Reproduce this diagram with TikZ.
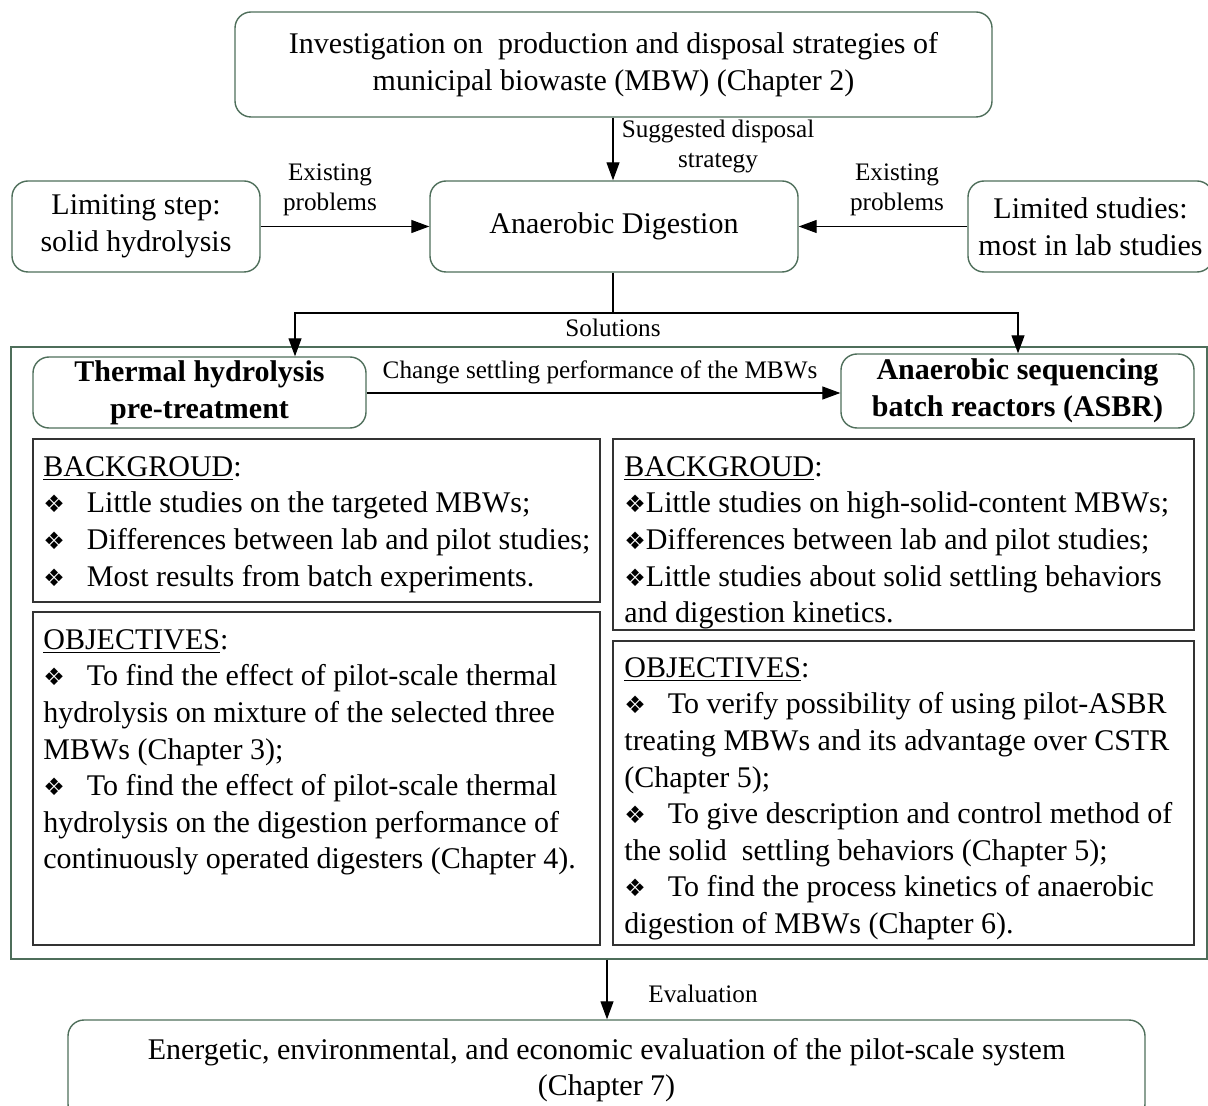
\documentclass[tikz,border=0pt]{standalone}
\usepackage{fontspec}
\setmainfont{Liberation Serif}
\newfontfamily\dingfont{DejaVu Sans}
\usetikzlibrary{arrows.meta}
\definecolor{boxgreen}{HTML}{4E6E5A}
\definecolor{innergray}{HTML}{333333}
\newcommand{\bul}{{\dingfont\fontsize{12}{12}\selectfont ❖}}
\newcommand{\bulsp}{\bul\hspace{11pt}}
\begin{document}
\begin{tikzpicture}[x=0.5pt,y=-0.5pt,
  rbox/.style={draw=boxgreen,line width=0.7pt,rounded corners=8pt,align=center,inner sep=0pt,
     font=\fontsize{15}{18.3}\selectfont},
  ibox/.style={draw=innergray,line width=0.7pt,inner sep=0pt},
  cbox/.style={draw=boxgreen,line width=0.7pt,inner sep=0pt},
  lbl/.style={align=center,inner sep=0pt,font=\fontsize{12.6}{15}\selectfont},
  txt/.style={align=left,inner sep=0pt,anchor=north west,font=\fontsize{15}{18.3}\selectfont},
  arr/.style={-{Triangle[length=9pt,width=6.5pt]},line width=0.6pt,black}
]
\useasboundingbox (0,0) rectangle (1208,1106);

% top boxes
\node[rbox,minimum width=378.5pt,minimum height=52.5pt] (top) at (613.5,64.5)
  {Investigation on\ \ production and disposal strategies of\\municipal biowaste (MBW) (Chapter 2)};
\node[rbox,minimum width=124pt,minimum height=45.5pt] (lim) at (136,226.5)
  {Limiting step:\\solid hydrolysis};
\node[rbox,minimum width=184pt,minimum height=45.5pt] (ad) at (614,226.5)
  {Anaerobic Digestion};
\node[rbox,minimum width=122.5pt,minimum height=45.5pt] (ltd) at (1090.5,226.5)
  {Limited studies:\\most in lab studies};

\draw[arr] (top.south -| 613,0) -- (ad.north -| 613,0);
\node[lbl] (lsug) at (718,146) {Suggested disposal\\strategy};
\draw[arr] (lim.east) -- (ad.west);
\node[lbl] (lex1) at (330,190) {Existing\\problems};
\draw[arr] (ltd.west) -- (ad.east);
\node[lbl] (lex2) at (897,190) {Existing\\problems};

% container
\node[cbox,minimum width=598pt,minimum height=306pt] (cont) at (609,653) {};

\node[rbox,minimum width=166.5pt,minimum height=35.5pt,font=\fontsize{15}{18.3}\selectfont\bfseries] (th) at (199.5,392.5)
  {Thermal hydrolysis\\pre-treatment};
\node[rbox,minimum width=176.5pt,minimum height=37pt,font=\fontsize{15}{18.3}\selectfont\bfseries] (asbr) at (1017.5,391)
  {Anaerobic sequencing\\batch reactors (ASBR)};

\coordinate (split) at (613,313);
\coordinate (sl) at (295,313);
\coordinate (sr) at (1018,313);
\draw[line width=0.6pt] (ad.south -| split) -- (split);
\draw[arr] (split) -- (sl) -- (sl |- th.north);
\draw[arr] (split) -- (sr) -- (sr |- asbr.north);
\node[lbl] (lsol) at (613,328) {Solutions};

\draw[arr] (th.east |- 0,393) -- (asbr.west |- 0,393);
\node[lbl] (lchg) at (600,372) {Change settling performance of the MBWs};

% inner boxes
\node[ibox,minimum width=283.5pt,minimum height=81.5pt] (lbg) at (316.5,520.5) {};
\node[ibox,minimum width=283.5pt,minimum height=166.5pt] (lobj) at (316.5,778.5) {};
\node[ibox,minimum width=290.5pt,minimum height=95.5pt] (rbg) at (903.5,534.5) {};
\node[ibox,minimum width=290.5pt,minimum height=152pt] (robj) at (903.5,793) {};

\node[txt] (tlbg) at (43,456) {\underline{BACKGROUD}:\\
\bulsp Little studies on the targeted MBWs;\\
\bulsp Differences between lab and pilot studies;\\
\bulsp Most results from batch experiments.};

\node[txt] (tlobj) at (43,629) {\underline{OBJECTIVES}:\\
\bulsp To find the effect of pilot-scale thermal\\
hydrolysis on mixture of the selected three\\
MBWs (Chapter 3);\\
\bulsp To find the effect of pilot-scale thermal\\
hydrolysis on the digestion performance of\\
continuously operated digesters (Chapter 4).};

\node[txt] (trbg) at (624,456) {\underline{BACKGROUD}:\\
\bul Little studies on high-solid-content MBWs;\\
\bul Differences between lab and pilot studies;\\
\bul Little studies about solid settling behaviors\\
and digestion kinetics.};

\node[txt] (trobj) at (624,657) {\underline{OBJECTIVES}:\\
\bulsp To verify possibility of using pilot-ASBR\\
treating MBWs and its advantage over CSTR\\
(Chapter 5);\\
\bulsp To give description and control method of\\
the solid\ \ settling behaviors (Chapter 5);\\
\bulsp To find the process kinetics of anaerobic\\
digestion of MBWs (Chapter 6).};

% bottom
\node[rbox,minimum width=538.5pt,minimum height=50pt] (bot) at (606.5,1070)
  {Energetic, environmental, and economic evaluation of the pilot-scale system\\(Chapter 7)};
\coordinate (ev) at (607,0);
\draw[arr] (cont.south -| ev) -- (bot.north -| ev);
\node[lbl] (leval) at (703,994) {Evaluation};
\end{tikzpicture}
\end{document}
